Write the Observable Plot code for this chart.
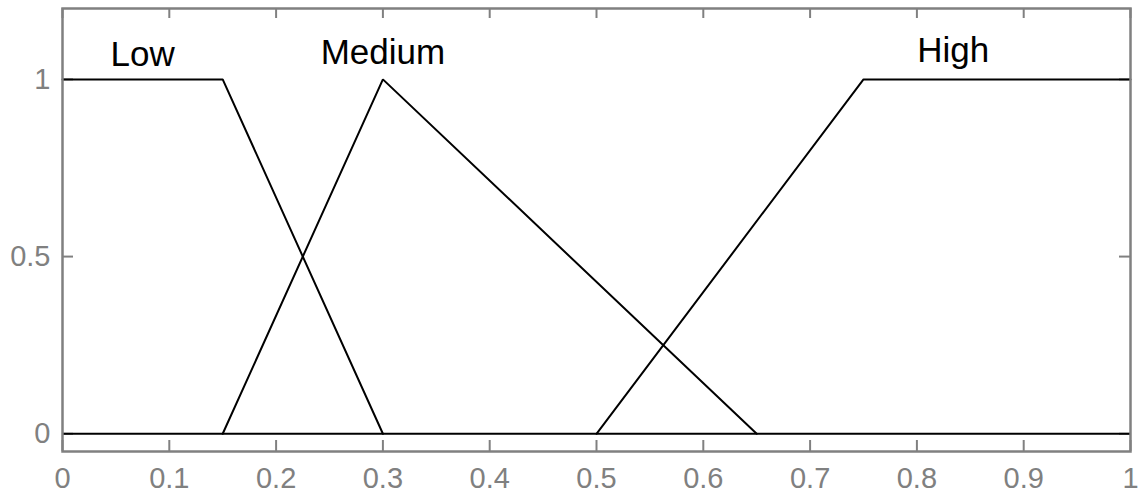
<!DOCTYPE html>
<html>
<head>
<meta charset="utf-8">
<script src="https://cdn.jsdelivr.net/npm/d3@7"></script>
<script src="https://cdn.jsdelivr.net/npm/@observablehq/plot@0.6"></script>
<style>
  html, body { margin: 0; padding: 0; background: #fff; }
</style>
</head>
<body>
<div id="chart"></div>
<script>
// Membership functions (x, membership)
const lowX = [0, 0.15, 0.3];
const lowY = [1, 1, 0];
const mediumX = [0.15, 0.3, 0.65];
const mediumY = [0, 1, 0];
const highX = [0.5, 0.75, 1];
const highY = [0, 1, 1];

const labelNames = ["Low", "Medium", "High"];
const labelX = [0.075, 0.3, 0.834];
const labelY = [1.037, 1.042, 1.05];

const xTicks = [0, 0.1, 0.2, 0.3, 0.4, 0.5, 0.6, 0.7, 0.8, 0.9, 1];
const yTicks = [0, 0.5, 1];

const toPts = (xs, ys, name) => xs.map((x, i) => ({x, y: ys[i], name}));
const curves = [
  ...toPts(lowX, lowY, "Low"),
  ...toPts(mediumX, mediumY, "Medium"),
  ...toPts(highX, highY, "High")
];
const labels = labelNames.map((t, i) => ({t, x: labelX[i], y: labelY[i]}));

const W = 1142, H = 500;
const mL = 62, mR = 12, mT = 8, mB = 49;
const fw = W - mL - mR, fh = H - mT - mB;
const gray = "#808080";

const chart = Plot.plot({
  width: W,
  height: H,
  marginLeft: mL,
  marginRight: mR,
  marginTop: mT,
  marginBottom: mB,
  style: {fontFamily: "'Liberation Sans', Arial, sans-serif", background: "#fff", overflow: "visible"},
  x: {domain: [0, 1], ticks: xTicks},
  y: {domain: [-0.05, 1.2], ticks: yTicks},
  marks: [
    // inward tick marks
    Plot.ruleX(xTicks, {stroke: gray, strokeWidth: 2, insetTop: fh - 11}),
    Plot.ruleX(xTicks, {stroke: gray, strokeWidth: 2, insetBottom: fh - 10}),
    Plot.ruleY(yTicks, {stroke: gray, strokeWidth: 2, insetRight: fw - 11}),
    Plot.ruleY(yTicks, {stroke: gray, strokeWidth: 2, insetLeft: fw - 11}),
    Plot.ruleY([0], {x1: 0, x2: 1, stroke: "black", strokeWidth: 2}),
    Plot.line(curves, {x: "x", y: "y", z: "name", stroke: "black", strokeWidth: 2, strokeLinejoin: "miter"}),
    Plot.text(labels, {x: "x", y: "y", text: "t", fontSize: 35, fill: "black", lineAnchor: "bottom", textAnchor: "middle"}),
    Plot.frame({stroke: gray, strokeWidth: 2.5}),
    Plot.axisX(xTicks, {tickSize: 0, tickPadding: 16, fontSize: 29, fill: gray, tickFormat: d => String(d), label: null}),
    Plot.axisY(yTicks, {tickSize: 0, tickPadding: 12, fontSize: 29, fill: gray, tickFormat: d => String(d), label: null})
  ]
});
document.getElementById("chart").appendChild(chart);
</script>
</body>
</html>
